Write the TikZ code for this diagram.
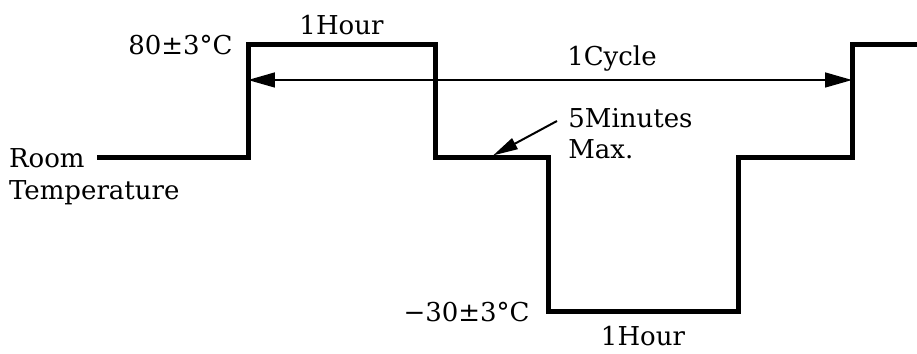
\documentclass[tikz,border=0pt]{standalone}
\usepackage{fontspec}
\setmainfont{DejaVu Serif}
\usetikzlibrary{arrows.meta}
\usetikzlibrary{positioning}
\usetikzlibrary{calc}

\begin{document}
\begin{tikzpicture}[x=0.02cm,y=0.02cm,
  wave/.style={line width=0.1cm,line join=miter},
  span/.style={{Triangle[length=0.54cm,width=0.3cm]}-{Triangle[length=0.54cm,width=0.3cm]},line width=0.03cm},
  lead/.style={-{Triangle[length=0.5cm,width=0.24cm]},line width=0.04cm},
  lbl/.style={inner sep=0pt,font=\fontsize{14.8}{17.5}\selectfont}]

  \useasboundingbox (0,0) rectangle (917,354);

  % corners of the profile
  \coordinate (r0) at (97,196);
  \coordinate (a1) at (248,196);
  \coordinate (a2) at (248,309);
  \coordinate (a3) at (435,309);
  \coordinate (a4) at (435,196);
  \coordinate (a5) at (548,196);
  \coordinate (a6) at (548,42);
  \coordinate (a7) at (738,42);
  \coordinate (a8) at (738,196);
  \coordinate (a9) at (852,196);
  \coordinate (a10) at (852,309);
  \coordinate (a11) at (930,309);

  \draw[wave] (r0) -- (a1) -- (a2) -- (a3) -- (a4) -- (a5) -- (a6)
    -- (a7) -- (a8) -- (a9) -- (a10) -- (a11);

  % cycle span
  \coordinate (cl) at (248,274);
  \coordinate (cr) at (852,274);
  \draw[span] (cl) -- (cr);
  \node[lbl] (cyc) [above=0.16cm] at (612,274) {1Cycle};

  \node[lbl] (room) [left=0.24cm of r0] {Room};
  \node[lbl] (temp) [below=0.24cm of room.south west,anchor=north west] {Temperature};

  \coordinate (hi) at ($(a2)!0.5!(a3)$);
  \coordinate (lo) at ($(a6)!0.5!(a7)$);
  \node[lbl] (hot) [left=0.3cm of a2] {80±3°C};
  \node[lbl] (hour1) [above=0.2cm of hi] {1Hour};

  \node[lbl] (cold) [left=0.36cm of a6] {−30±3°C};
  \node[lbl] (hour2) [below=0.28cm of lo] {1Hour};

  % transfer time
  \node[lbl,align=left,anchor=north west] (mins) at (568,246) {5Minutes\\Max.};
  \coordinate (dwell) at (493,198.5);
  \draw[lead] ([xshift=-0.22cm,yshift=-0.26cm]mins.north west) -- (dwell);
\end{tikzpicture}
\end{document}
